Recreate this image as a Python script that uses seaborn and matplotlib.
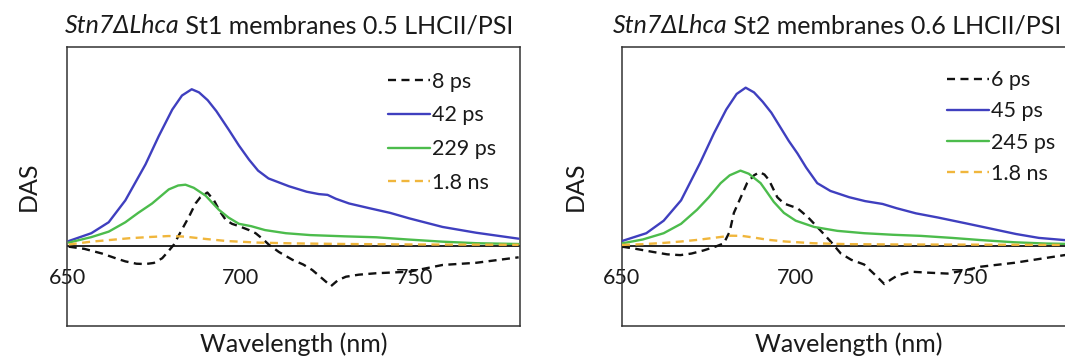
import matplotlib
matplotlib.use("Agg")
import matplotlib.pyplot as plt
import numpy as np
import pandas as pd
import seaborn as sns

# ---------------- data (decay-associated spectra, arbitrary units) ----------------
# Panel 1: Stn7ΔLhca St1 membranes
st1_fast_wl = [650.5, 655, 660.1, 664, 666.8, 670, 672.6, 675, 677.4, 679, 680.7, 683, 685.1,
               687, 688.4, 690.4, 692.3, 694, 695.7, 697.5, 699.5, 702.4, 704.3, 706.5, 708.2,
               711, 714.9, 718, 720.6, 723.5, 726, 728, 730.3, 734, 738.9, 748.5, 758.1, 767.8, 780]
st1_fast_das = [-0.006, -0.02, -0.05, -0.08, -0.10, -0.115, -0.117, -0.11, -0.08, -0.04, 0.005,
                0.10, 0.185, 0.27, 0.31, 0.34, 0.29, 0.22, 0.165, 0.14, 0.125, 0.10, 0.08, 0.04,
                0.005, -0.04, -0.09, -0.12, -0.155, -0.21, -0.258, -0.22, -0.198, -0.185, -0.176,
                -0.166, -0.123, -0.109, -0.074]

st1_42_wl = [650.5, 657, 662, 666.8, 672.6, 676.4, 680.3, 683.1, 685.9, 688, 690.5, 693, 696.6,
             699.5, 702.4, 705, 708, 713.9, 719, 722.5, 725, 727.4, 731.2, 737, 743, 748.5, 758.1,
             767.8, 780]
st1_42_das = [0.03, 0.08, 0.15, 0.29, 0.52, 0.70, 0.87, 0.96, 1.00, 0.98, 0.93, 0.86, 0.74, 0.64,
              0.55, 0.48, 0.43, 0.38, 0.345, 0.33, 0.325, 0.30, 0.27, 0.24, 0.21, 0.175, 0.12,
              0.083, 0.045]

st1_229_wl = [650.5, 657, 662, 666.8, 670.5, 674.5, 679.3, 682, 684.1, 686.5, 689.9, 693.7, 696.5,
              699.5, 703, 707, 713, 720, 730, 739, 748, 758, 768, 780]
st1_229_das = [0.02, 0.055, 0.09, 0.15, 0.21, 0.27, 0.36, 0.385, 0.39, 0.37, 0.32, 0.23, 0.18,
               0.14, 0.125, 0.10, 0.08, 0.068, 0.06, 0.054, 0.04, 0.026, 0.016, 0.011]

st1_ns_wl = [650.5, 657, 663, 668, 674, 679.3, 684, 690, 696, 705, 715, 730, 750, 780]
st1_ns_das = [0.008, 0.026, 0.038, 0.048, 0.056, 0.062, 0.058, 0.043, 0.03, 0.02, 0.015, 0.011,
              0.008, 0.006]

# Panel 2: Stn7ΔLhca St2 membranes
st2_fast_wl = [650, 654, 659, 663, 666.8, 670, 673.5, 677, 679.3, 681, 682.2, 684, 686, 688, 689.6,
               691, 692.3, 694.7, 696.6, 698.5, 700.5, 703.4, 706.2, 710.1, 713, 716, 719.7, 723.5,
               725.5, 727.5, 729.3, 733.2, 738, 743.7, 748, 753.3, 763, 770, 777.4, 780]
st2_fast_das = [-0.006, -0.02, -0.04, -0.055, -0.06, -0.05, -0.03, -0.005, 0.015, 0.09, 0.21,
                0.30, 0.40, 0.45, 0.47, 0.455, 0.42, 0.31, 0.27, 0.255, 0.24, 0.185, 0.12, 0.026,
                -0.05, -0.09, -0.12, -0.20, -0.245, -0.215, -0.19, -0.166, -0.172, -0.178, -0.16,
                -0.134, -0.109, -0.085, -0.06, -0.055]

st2_45_wl = [650, 657, 662, 667, 672.5, 676.5, 680, 683, 685.6, 688, 690.5, 693, 695.5, 698,
             700.5, 703, 706.2, 710, 715.4, 720, 725, 729, 734.6, 741, 749, 756, 763.4, 770,
             777.4, 780]
st2_45_das = [0.03, 0.08, 0.16, 0.29, 0.53, 0.72, 0.87, 0.97, 1.01, 0.98, 0.92, 0.85, 0.76, 0.67,
              0.59, 0.50, 0.40, 0.35, 0.31, 0.285, 0.267, 0.24, 0.207, 0.18, 0.143, 0.11, 0.075,
              0.05, 0.036, 0.033]

st2_245_wl = [650, 656, 662, 667, 671.6, 675, 678.4, 681, 684.1, 686.5, 689.9, 691.5, 693.7, 696.6,
              700, 705.3, 712, 719.7, 728, 736, 745, 753.3, 763, 772, 780]
st2_245_das = [0.015, 0.04, 0.08, 0.14, 0.23, 0.31, 0.40, 0.45, 0.48, 0.46, 0.40, 0.35, 0.28, 0.21,
               0.16, 0.12, 0.095, 0.08, 0.07, 0.063, 0.05, 0.036, 0.022, 0.014, 0.011]

st2_ns_wl = [650, 656, 662, 667, 672, 677, 681.3, 684.5, 688, 692, 697, 705, 715, 730, 750, 780]
st2_ns_das = [0.005, 0.01, 0.018, 0.027, 0.038, 0.052, 0.064, 0.063, 0.052, 0.038, 0.027, 0.016,
              0.01, 0.008, 0.007, 0.005]

st1_labels = ["8 ps", "42 ps", "229 ps", "1.8 ns"]
st2_labels = ["6 ps", "45 ps", "245 ps", "1.8 ns"]
x_ticks = [650, 700, 750]

# ---------------- style ----------------
sns.set_theme(style="white")
plt.rcParams["font.family"] = ["Lato", "DejaVu Sans"]
plt.rcParams["text.color"] = "#1a1a1a"

TXT = "#1a1a1a"
BLACK = "#111111"
BLUE = "#3f3fbf"
GREEN = "#4cbc4c"
YELLOW = "#f0b63c"
DASH = (0, (3.4, 2.3))
LW = 1.7

X_MIN, X_MAX = 650, 780.4
Y_MIN, Y_MAX = -0.513, 1.27

fig = plt.figure(figsize=(10.65, 3.56), dpi=100)
W, H = 1065, 356
ax1 = fig.add_axes([67 / W, 30 / H, 453 / W, 279 / H])
ax2 = fig.add_axes([622 / W, 30 / H, 453 / W, 279 / H])


def draw_panel(ax, series, labels, legend_x, legend_top, spacing):
    ax.axhline(0, color="black", lw=1.2, zorder=1)
    styles = [(BLACK, DASH), (BLUE, "-"), (GREEN, "-"), (YELLOW, DASH)]
    for (wl, das), lab, (col, ls) in zip(series, labels, styles):
        df = pd.DataFrame({"wl": wl, "das": das})
        sns.lineplot(data=df, x="wl", y="das", ax=ax, color=col, linestyle=ls, lw=LW,
                     label=lab, estimator=None, sort=False, zorder=3)
    ax.set_xlim(X_MIN, X_MAX)
    ax.set_ylim(Y_MIN, Y_MAX)
    ax.set_xticks([])
    ax.set_yticks([])
    ax.set_xlabel("Wavelength (nm)", fontsize=18, color=TXT)
    ax.xaxis.set_label_coords(0.5, -0.022)
    ax.xaxis.label.set_va("top")
    ax.set_ylabel("DAS", fontsize=18, color=TXT)
    for sp in ax.spines.values():
        sp.set_visible(True)
        sp.set_color("#333333")
        sp.set_linewidth(1.1)

    # tick labels hang from the zero line
    zero_frac = (0 - Y_MIN) / (Y_MAX - Y_MIN)
    sec = ax.secondary_xaxis(zero_frac)
    sec.set_xticks(x_ticks)
    sec.tick_params(length=0, pad=16, labelsize=15.5, labelcolor=TXT)
    sec.spines["bottom"].set_visible(False)

    leg = ax.legend(loc="upper left", bbox_to_anchor=(legend_x, legend_top), frameon=False,
                    fontsize=15.5, handlelength=1.95, handletextpad=0.1, labelspacing=spacing,
                    borderaxespad=0, borderpad=0)
    for t in leg.get_texts():
        t.set_color(TXT)


draw_panel(ax1,
           [(st1_fast_wl, st1_fast_das), (st1_42_wl, st1_42_das),
            (st1_229_wl, st1_229_das), (st1_ns_wl, st1_ns_das)],
           st1_labels, 0.709, 0.912, 0.64)
draw_panel(ax2,
           [(st2_fast_wl, st2_fast_das), (st2_45_wl, st2_45_das),
            (st2_245_wl, st2_245_das), (st2_ns_wl, st2_ns_das)],
           st2_labels, 0.718, 0.917, 0.52)

ax1.yaxis.set_label_coords((28 - 67) / 453, 0.5)
ax2.yaxis.set_label_coords((575 - 622) / 453, 0.5)
for ax in (ax1, ax2):
    ax.yaxis.label.set_va("center")


# ---------------- titles: italic strain name followed by upright text ----------------
def panel_title(italic, rest, xc_px, base_px):
    renderer = fig.canvas.get_renderer()
    t1 = fig.text(0, base_px / H, italic, style="italic", fontsize=18, va="baseline", ha="left")
    t2 = fig.text(0, base_px / H, rest, fontsize=18, va="baseline", ha="left")
    w1 = t1.get_window_extent(renderer).width
    w2 = t2.get_window_extent(renderer).width
    left = xc_px - (w1 + w2) / 2
    t1.set_x(left / W)
    t2.set_x((left + w1) / W)


panel_title("Stn7ΔLhca", " St1 membranes 0.5 LHCII/PSI", 289, H - 33)
panel_title("Stn7ΔLhca", " St2 membranes 0.6 LHCII/PSI", 837, H - 33)

fig.savefig("out.png", dpi=100)
